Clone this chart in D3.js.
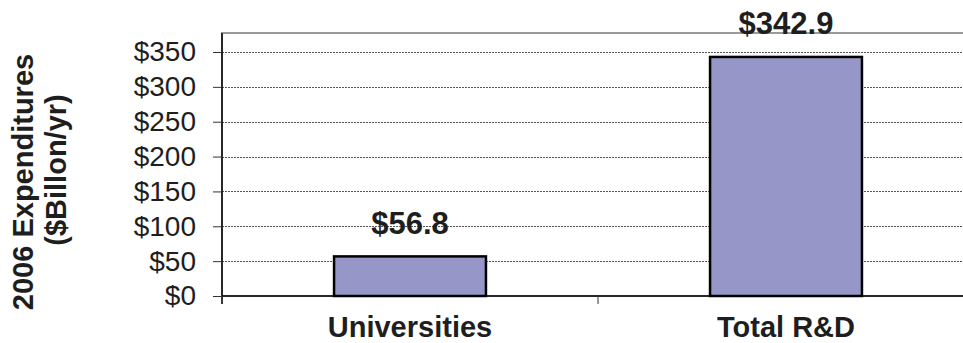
<!DOCTYPE html>
<html>
<head>
<meta charset="utf-8">
<script src="https://cdn.jsdelivr.net/npm/d3@7"></script>
<style>
  html, body { margin: 0; padding: 0; background: #fff; }
  svg { display: block; font-family: "Liberation Sans", Arial, sans-serif; }
</style>
</head>
<body>
<svg id="chart" width="963" height="343"></svg>
<script>
// Chart data
const categories = ["Universities", "Total R&D"];
const expenditures = [56.8, 342.9];
const yTicks = [0, 50, 100, 150, 200, 250, 300, 350];
const yTitleLines = ["2006 Expenditures", "($Billon/yr)"];

const svg = d3.select("#chart");

const plot = { left: 222, right: 974, top: 33, bottom: 296 };

const x = d3.scaleBand()
  .domain(categories)
  .range([plot.left, plot.right])
  .paddingInner(0.596)
  .paddingOuter(0.298);

const y = d3.scaleLinear()
  .domain([0, 350])
  .range([plot.bottom, 52]);

// Plot area frame (grey)
svg.append("rect")
  .attr("x", plot.left)
  .attr("y", plot.top)
  .attr("width", plot.right - plot.left)
  .attr("height", plot.bottom - plot.top)
  .attr("fill", "none")
  .attr("stroke", "#9a9a9a")
  .attr("stroke-width", 2);

// Dotted horizontal gridlines
svg.append("g")
  .selectAll("line")
  .data(yTicks.filter(d => d > 0))
  .join("line")
  .attr("x1", plot.left)
  .attr("x2", plot.right)
  .attr("y1", d => Math.round(y(d)) + 0.5)
  .attr("y2", d => Math.round(y(d)) + 0.5)
  .attr("stroke", "#555")
  .attr("stroke-width", 1)
  .attr("stroke-dasharray", "2,1");

// Bars
svg.append("g")
  .selectAll("rect")
  .data(expenditures)
  .join("rect")
  .attr("x", (d, i) => x(categories[i]))
  .attr("y", d => y(d))
  .attr("width", x.bandwidth())
  .attr("height", d => y(0) - y(d))
  .attr("fill", "#9696c9")
  .attr("stroke", "#000")
  .attr("stroke-width", 2.5);

// Value labels
svg.append("g")
  .selectAll("text")
  .data(expenditures)
  .join("text")
  .attr("x", (d, i) => x(categories[i]) + x.bandwidth() / 2)
  .attr("y", d => y(d) - 22.5)
  .attr("text-anchor", "middle")
  .attr("font-size", 31)
  .attr("font-weight", "bold")
  .attr("fill", "#1e1e1e")
  .text(d => "$" + d3.format(".1f")(d));

// Y axis
const yAxis = svg.append("g")
  .attr("transform", `translate(${plot.left},0)`)
  .call(d3.axisLeft(y)
    .tickValues(yTicks)
    .tickFormat(d => "$" + d)
    .tickSize(9)
    .tickPadding(17));
yAxis.select(".domain")
  .attr("d", `M0,${plot.top}V${plot.bottom + 8}`)
  .attr("stroke", "#000")
  .attr("stroke-width", 1.5);
yAxis.selectAll(".tick line").attr("stroke", "#333");
yAxis.selectAll(".tick text")
  .attr("font-size", 28)
  .attr("font-family", "'Liberation Sans', Arial, sans-serif")
  .attr("fill", "#1e1e1e");

// X axis baseline with ticks at category boundaries
const step = x.step();
const boundaries = d3.range(categories.length + 1).map(i => plot.left + i * step);
const xAxis = svg.append("g");
xAxis.append("line")
  .attr("x1", plot.left)
  .attr("x2", plot.right)
  .attr("y1", y(0))
  .attr("y2", y(0))
  .attr("stroke", "#000")
  .attr("stroke-width", 1.5);
xAxis.selectAll("line.tick")
  .data(boundaries)
  .join("line")
  .attr("class", "tick")
  .attr("x1", d => d)
  .attr("x2", d => d)
  .attr("y1", y(0))
  .attr("y2", y(0) + 8)
  .attr("stroke", "#333")
  .attr("stroke-width", 1);

// Category labels
xAxis.selectAll("text")
  .data(categories)
  .join("text")
  .attr("x", d => x(d) + x.bandwidth() / 2)
  .attr("y", 337)
  .attr("text-anchor", "middle")
  .attr("font-size", 29)
  .attr("font-weight", "bold")
  .attr("fill", "#1e1e1e")
  .text(d => d);

// Y axis title (two lines, rotated)
const titleCenters = [182, 170];
svg.append("g")
  .selectAll("text")
  .data(yTitleLines)
  .join("text")
  .attr("transform", (d, i) => `translate(${33 + i * 33},${titleCenters[i]}) rotate(-90)`)
  .attr("text-anchor", "middle")
  .attr("font-size", 29)
  .attr("font-weight", "bold")
  .attr("fill", "#1e1e1e")
  .text(d => d);
</script>
</body>
</html>
